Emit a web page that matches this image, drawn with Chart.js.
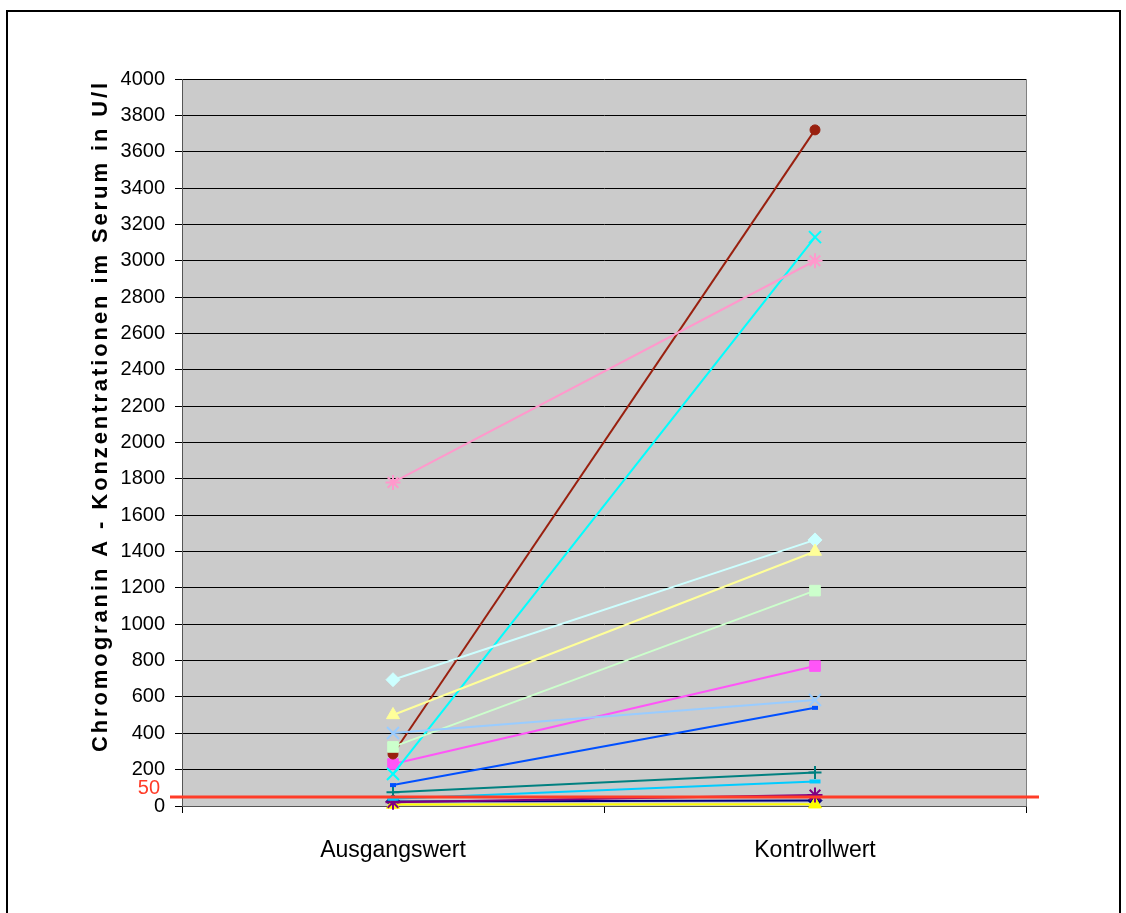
<!DOCTYPE html>
<html>
<head>
<meta charset="utf-8">
<script src="https://cdn.jsdelivr.net/npm/chart.js@4"></script>
<style>
  html, body { margin: 0; padding: 0; background: #ffffff; }
  #wrap { width: 1126px; height: 913px; }
</style>
</head>
<body>
<div id="wrap"><canvas id="c" width="1126" height="913"></canvas></div>
<script>
// Category labels and axis
const categories = ['Ausgangswert', 'Kontrollwert'];
const yMin = 0, yMax = 4000, yStep = 200;
const yTitle = 'Chromogranin A - Konzentrationen im Serum in U/l';
const limitValue = 50;
const limitLabel = '50';

// Chromogranin A per patient (U/l): [Ausgangswert, Kontrollwert]
const p01 = [25, 30];
const p02 = [231, 770];
const p03 = [8, 10];
const p04 = [176, 3130];
const p05 = [20, 60];
const p06 = [286, 3720];
const p07 = [75, 185];
const p08 = [115, 540];
const p09 = [40, 135];
const p10 = [695, 1464];
const p11 = [325, 1185];
const p12 = [501, 1400];
const p13 = [402, 583];
const p14 = [1780, 3000];

const seriesValues = [p01, p02, p03, p04, p05, p06, p07, p08, p09, p10, p11, p12, p13, p14];
const seriesColors = ['#000080', '#FF55F8', '#FFFF00', '#00FFFF', '#800080', '#99200F', '#008080',
                      '#0050FF', '#00CCFF', '#CCFFFF', '#CCFFCC', '#FFFF99', '#99CCFF', '#FF99CC'];
const seriesMarkers = ['rectRot', 'rect', 'triangle', 'crossRot', 'star', 'circle', 'cross',
                       'line', 'line', 'rectRot', 'rect', 'triangle', 'crossRot', 'star'];
const markerSize = [7, 7.5, 7.5, 8.5, 7.5, 5, 6.5, 3, 5.5, 7, 7.5, 7.5, 8.5, 7.5];

const FONT = "'Liberation Sans', Arial, Helvetica, sans-serif";

const datasets = seriesValues.map((vals, i) => {
  const open = ['crossRot', 'star', 'cross', 'line'].includes(seriesMarkers[i]);
  return {
    label: 'Patient ' + (i + 1),
    data: vals,
    borderColor: seriesColors[i],
    backgroundColor: seriesColors[i],
    borderWidth: 2,
    pointStyle: seriesMarkers[i],
    pointRadius: markerSize[i],
    pointBackgroundColor: seriesColors[i],
    pointBorderColor: seriesColors[i],
    pointBorderWidth: seriesMarkers[i] === 'line' ? 4 : (open ? 2 : 1),
    tension: 0,
    clip: false,
    order: seriesValues.length - i
  };
});

// Outer frame, plot right edge, vertical axis title and reference line
const decorations = {
  id: 'decorations',
  beforeDraw(chart) {
    const ctx = chart.ctx;
    const a = chart.chartArea;
    ctx.save();
    ctx.fillStyle = '#ffffff';
    ctx.fillRect(0, 0, chart.width, chart.height);
    ctx.fillStyle = '#CBCBCB';
    ctx.fillRect(a.left, a.top, a.right - a.left, a.bottom - a.top);
    ctx.restore();
  },
  afterDraw(chart) {
    const ctx = chart.ctx;
    const a = chart.chartArea;
    const y = chart.scales.y;
    ctx.save();
    // plot right edge
    ctx.strokeStyle = '#808080';
    ctx.lineWidth = 1;
    ctx.beginPath();
    ctx.moveTo(Math.round(a.right) + 0.5, a.top);
    ctx.lineTo(Math.round(a.right) + 0.5, a.bottom);
    ctx.stroke();
    // vertical axis title
    ctx.translate(101, 416);
    ctx.rotate(-Math.PI / 2);
    ctx.fillStyle = '#000000';
    ctx.font = 'bold 22px ' + FONT;
    if ('letterSpacing' in ctx) ctx.letterSpacing = '2.9px';
    ctx.textAlign = 'center';
    ctx.textBaseline = 'middle';
    ctx.fillText(yTitle, 0, 0);
    ctx.restore();

    // reference line at the limit value
    const ly = y.getPixelForValue(limitValue);
    ctx.save();
    ctx.strokeStyle = '#FF3C28';
    ctx.lineWidth = 3;
    ctx.beginPath();
    ctx.moveTo(170, ly);
    ctx.lineTo(1039, ly);
    ctx.stroke();
    ctx.fillStyle = '#FF3C28';
    ctx.font = '20px ' + FONT;
    ctx.textAlign = 'right';
    ctx.textBaseline = 'middle';
    ctx.fillText(limitLabel, 160, ly - 8);
    // outer frame
    ctx.strokeStyle = '#000000';
    ctx.lineWidth = 2;
    ctx.strokeRect(7, 11, 1113, 920);
    ctx.restore();
  }
};

new Chart(document.getElementById('c'), {
  type: 'line',
  data: { labels: categories, datasets: datasets },
  options: {
    responsive: false,
    animation: false,
    devicePixelRatio: 1,
    layout: { padding: { left: 0, right: 100, top: 79, bottom: 0 } },
    plugins: { legend: { display: false }, tooltip: { enabled: false } },
    scales: {
      x: {
        type: 'category',
        offset: true,
        afterFit(s) { s.height = 107; },
        grid: {
          offset: true,
          drawOnChartArea: false,
          drawTicks: true,
          tickLength: 7,
          color: '#000000'
        },
        border: { display: true, color: '#555555', width: 1 },
        ticks: {
          color: '#000000',
          font: { family: FONT, size: 23 },
          padding: 24,
          maxRotation: 0
        }
      },
      y: {
        min: yMin,
        max: yMax,
        afterFit(s) { s.width = 182; },
        grid: {
          color: '#000000',
          lineWidth: 1,
          drawTicks: true,
          tickLength: 7
        },
        border: { display: true, color: '#555555', width: 1 },
        ticks: {
          stepSize: yStep,
          color: '#000000',
          font: { family: FONT, size: 20 },
          padding: 10,
          callback: (v) => String(v)
        }
      }
    }
  },
  plugins: [decorations]
});
</script>
</body>
</html>
